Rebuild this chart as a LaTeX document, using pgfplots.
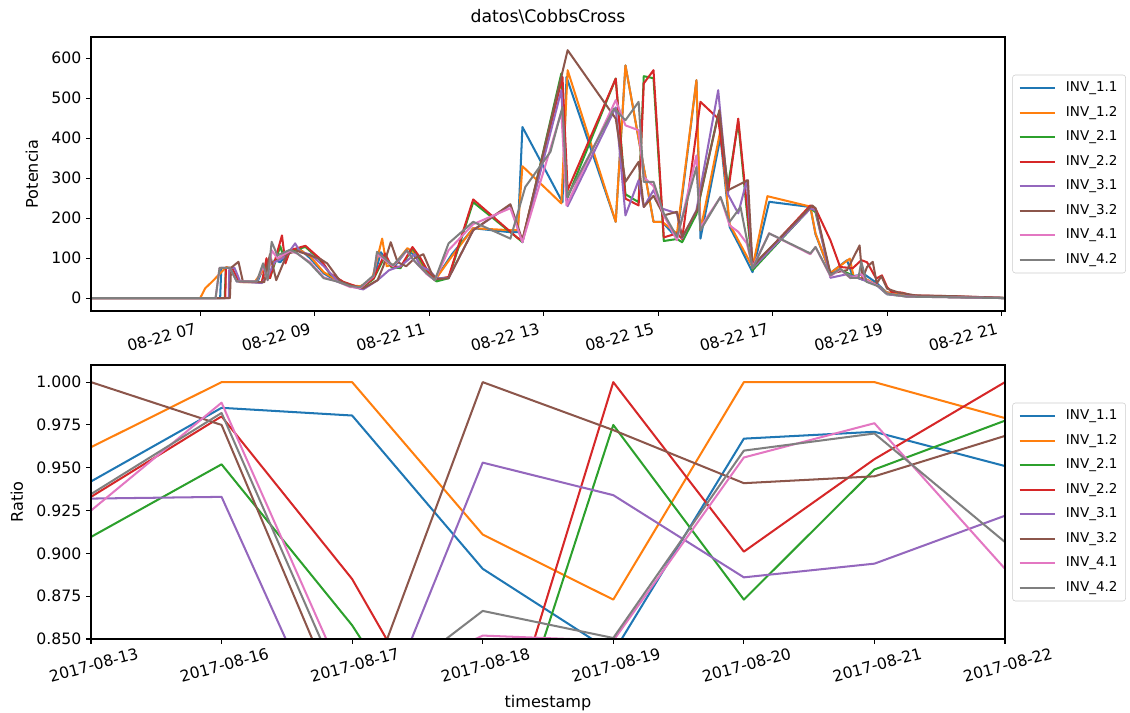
\documentclass[border=0pt]{standalone}
\usepackage{fontspec}
\setmainfont{DejaVu Sans}
\usepackage{pgfplots}
\pgfplotsset{compat=1.18}
\definecolor{c0}{HTML}{1F77B4}
\definecolor{c1}{HTML}{FF7F0E}
\definecolor{c2}{HTML}{2CA02C}
\definecolor{c3}{HTML}{D62728}
\definecolor{c4}{HTML}{9467BD}
\definecolor{c5}{HTML}{8C564B}
\definecolor{c6}{HTML}{E377C2}
\definecolor{c7}{HTML}{7F7F7F}
\pgfplotsset{
  mpl/.style={
    scale only axis, width=676.36pt, height=202.76pt,
    axis on top,
    axis line style={line width=0.8pt, black},
    tick align=outside, major tick length=3.6pt,
    tick style={black, line width=0.8pt},
    xtick pos=left, ytick pos=left,
    /pgf/number format/assume math mode=true,
    ticklabel style={font=\fontsize{11.6}{14}\selectfont},
    label style={font=\fontsize{11.9}{14}\selectfont},
    every axis plot/.append style={line width=1.5pt, line join=round, no marks},
    legend cell align=left,
    legend image code/.code={\draw[#1, line width=1.5pt] (0pt,0pt) -- (26pt,0pt);},
    legend style={at={(1.008,0.5)}, anchor=west, draw=black!20, rounded corners=2pt,
      fill=white, fill opacity=0.8, text opacity=1, inner xsep=4.5pt, inner ysep=3.6pt,
      font=\fontsize{10}{12}\selectfont, row sep=5.5pt, column sep=6pt,
      nodes={inner sep=1.5pt, text height=7.4pt, text depth=2.2pt}},
  }
}
\begin{document}
\begin{tikzpicture}
\useasboundingbox (0,0) rectangle (836.2pt,-527.62pt);
% ---------------- top axis ----------------
\begin{axis}[mpl, at={(67.34pt,-230.14pt)}, anchor=south west,
  xmin=5.094, xmax=21.06, ymin=-32, ymax=653,
  xtick={7,9,11,13,15,17,19,21},
  xticklabels={08-22 07,08-22 09,08-22 11,08-22 13,08-22 15,08-22 17,08-22 19,08-22 21},
  xticklabel style={rotate=15, anchor=north east, xshift=-2pt},
  ytick={0,100,200,300,400,500,600},
  ylabel={Potencia},
  ylabel style={at={(axis description cs:-0.0646,0.5)}, anchor=center},
  title={datos\textbackslash CobbsCross},
  title style={at={(axis description cs:0.5,1)}, anchor=center, yshift=9pt, font=\fontsize{12.8}{15}\selectfont},
]
\addplot[c0] coordinates {(5.0,0) (7.35,0) (7.37,76) (7.52,76) (7.64,42) (8.00,40) (8.10,75) (8.20,50) (8.30,95) (8.40,90) (8.57,118) (8.75,122) (8.92,100) (9.16,62) (9.39,42) (9.62,30) (9.80,28) (10.03,50) (10.16,115) (10.26,90) (10.40,80) (10.60,118) (10.73,110) (10.96,62) (11.10,45) (11.40,110) (11.77,175) (12.42,165) (12.55,165) (12.63,428) (13.33,240) (13.40,553) (14.26,191) (14.43,582) (14.92,191) (15.07,191) (15.33,150) (15.67,545) (15.74,149) (16.09,403) (16.25,178) (16.40,137) (16.65,65) (16.94,241) (17.66,228) (17.75,160) (18.01,63) (18.30,95) (18.40,55) (18.60,60) (18.80,40) (18.99,15) (19.34,5) (21.20,0)};
\addlegendentry{INV\_1.1}
\addplot[c1] coordinates {(5.0,0) (7.00,0) (7.09,25) (7.20,40) (7.46,78) (7.55,72) (7.70,40) (7.95,40) (8.10,70) (8.25,87) (8.40,100) (8.57,118) (8.75,120) (8.92,105) (9.16,65) (9.39,45) (9.62,32) (9.80,30) (10.00,45) (10.18,149) (10.26,80) (10.40,85) (10.62,125) (10.73,115) (10.96,65) (11.10,45) (11.40,105) (11.77,175) (12.42,170) (12.55,170) (12.63,330) (13.31,237) (13.42,570) (14.26,191) (14.43,582) (14.92,191) (15.07,191) (15.33,162) (15.67,545) (15.74,170) (16.09,420) (16.25,185) (16.40,145) (16.65,78) (16.91,255) (17.66,229) (17.75,162) (18.01,63) (18.35,99) (18.42,51) (18.60,50) (18.80,35) (18.99,15) (19.34,5) (21.20,0)};
\addlegendentry{INV\_1.2}
\addplot[c2] coordinates {(5.0,0) (7.43,0) (7.45,76) (7.55,76) (7.68,42) (8.08,40) (8.16,90) (8.22,50) (8.40,130) (8.49,90) (8.57,118) (8.84,128) (9.10,95) (9.27,60) (9.50,40) (9.80,24) (10.03,48) (10.23,105) (10.34,78) (10.50,75) (10.71,125) (10.85,95) (11.00,60) (11.13,42) (11.34,50) (11.77,240) (12.55,150) (12.63,140) (13.31,562) (13.42,252) (14.26,549) (14.43,260) (14.66,240) (14.75,555) (14.92,550) (15.10,143) (15.33,148) (15.42,140) (15.67,210) (16.05,460) (16.22,280) (16.40,440) (16.65,70) (17.66,225) (17.75,215) (18.01,60) (18.20,70) (18.50,50) (18.80,35) (19.00,10) (19.30,5) (21.20,0)};
\addlegendentry{INV\_2.1}
\addplot[c3] coordinates {(5.0,0) (7.44,0) (7.45,76) (7.55,76) (7.68,42) (8.08,40) (8.16,100) (8.22,50) (8.43,157) (8.49,87) (8.57,120) (8.84,131) (9.10,98) (9.27,62) (9.50,41) (9.80,26) (10.03,50) (10.23,112) (10.34,80) (10.50,78) (10.71,128) (10.85,100) (11.00,62) (11.13,48) (11.34,53) (11.77,247) (12.55,150) (12.63,145) (13.33,553) (13.42,270) (14.26,549) (14.43,249) (14.66,232) (14.75,537) (14.92,570) (15.10,152) (15.33,162) (15.42,148) (15.74,491) (16.05,449) (16.22,262) (16.40,449) (16.65,87) (16.80,100) (17.66,232) (17.75,224) (18.01,145) (18.18,78) (18.40,75) (18.55,95) (18.65,90) (18.81,49) (18.91,57) (19.00,28) (19.08,16) (19.26,14) (19.43,7) (20.13,5) (21.20,0)};
\addlegendentry{INV\_2.2}
\addplot[c4] coordinates {(5.0,0) (7.50,0) (7.51,76) (7.60,76) (7.70,42) (8.08,38) (8.20,60) (8.30,90) (8.50,105) (8.66,137) (8.75,115) (8.92,110) (9.16,80) (9.39,45) (9.62,30) (9.85,22) (10.10,45) (10.30,70) (10.50,80) (10.75,110) (10.85,80) (11.00,70) (11.13,50) (11.34,50) (11.77,170) (12.42,233) (12.63,140) (13.31,520) (13.42,230) (14.26,477) (14.43,207) (14.66,295) (14.75,228) (14.92,270) (15.07,224) (15.33,212) (15.42,150) (15.67,220) (16.05,520) (16.22,260) (16.40,212) (16.55,295) (16.65,75) (17.66,224) (17.75,220) (18.01,51) (18.30,60) (18.50,50) (18.80,35) (19.00,10) (19.30,5) (21.20,0)};
\addlegendentry{INV\_3.1}
\addplot[c5] coordinates {(5.0,0) (7.52,0) (7.54,76) (7.67,91) (7.75,40) (8.12,40) (8.22,110) (8.33,45) (8.52,111) (8.70,118) (9.10,98) (9.22,87) (9.45,42) (9.70,28) (9.85,25) (10.10,45) (10.20,80) (10.33,140) (10.45,90) (10.60,80) (10.75,100) (10.90,110) (11.05,60) (11.15,48) (11.34,50) (11.77,170) (12.42,235) (12.63,145) (13.42,620) (14.26,449) (14.43,291) (14.66,341) (14.75,228) (14.92,256) (15.10,207) (15.33,216) (15.42,152) (15.68,220) (16.07,470) (16.22,270) (16.57,295) (16.65,78) (16.80,103) (17.69,232) (17.75,225) (18.01,62) (18.30,70) (18.52,132) (18.57,49) (18.65,78) (18.75,91) (18.82,37) (18.90,55) (19.00,24) (19.20,14) (19.50,7) (20.20,5) (21.20,0)};
\addlegendentry{INV\_3.2}
\addplot[c6] coordinates {(5.0,0) (7.27,0) (7.34,76) (7.52,76) (7.64,42) (7.99,42) (8.10,80) (8.18,45) (8.25,120) (8.35,100) (8.57,118) (8.69,112) (8.92,90) (9.16,52) (9.39,42) (9.62,28) (9.80,26) (10.03,55) (10.09,110) (10.26,92) (10.37,80) (10.61,118) (10.73,95) (10.96,60) (11.10,45) (11.34,120) (11.77,185) (12.42,225) (12.63,140) (13.31,466) (13.40,232) (14.26,495) (14.43,432) (14.66,420) (14.75,303) (14.92,280) (15.10,207) (15.33,145) (15.67,357) (15.74,177) (16.09,253) (16.25,182) (16.40,166) (16.55,137) (16.65,78) (16.94,162) (17.66,110) (17.75,128) (18.01,55) (18.18,72) (18.36,50) (18.55,60) (18.64,45) (18.88,28) (18.99,12) (19.34,4) (21.20,0)};
\addlegendentry{INV\_4.1}
\addplot[c7] coordinates {(5.0,0) (7.27,0) (7.34,76) (7.52,76) (7.64,42) (7.99,42) (8.10,87) (8.18,45) (8.25,141) (8.35,107) (8.57,121) (8.69,113) (8.92,87) (9.16,50) (9.39,42) (9.62,30) (9.80,28) (10.03,57) (10.09,116) (10.26,95) (10.37,82) (10.61,120) (10.73,95) (10.96,62) (11.10,45) (11.34,137) (11.77,191) (12.42,149) (12.68,278) (13.12,366) (13.33,478) (13.41,253) (14.23,474) (14.43,445) (14.66,491) (14.75,291) (14.92,291) (15.10,212) (15.33,153) (15.67,328) (15.74,170) (16.09,253) (16.25,191) (16.44,228) (16.65,74) (16.94,162) (17.66,112) (17.75,128) (18.01,57) (18.18,74) (18.36,51) (18.50,51) (18.55,91) (18.64,41) (18.88,28) (18.99,12) (19.34,4) (21.20,0)};
\addlegendentry{INV\_4.2}
\end{axis}
% ---------------- bottom axis ----------------
\begin{axis}[mpl, at={(67.34pt,-472.86pt)}, anchor=south west,
  xmin=0, xmax=7, ymin=0.85, ymax=1.01,
  xtick={0,1,2,3,4,5,6,7},
  xticklabels={2017-08-13,2017-08-16,2017-08-17,2017-08-18,2017-08-19,2017-08-20,2017-08-21,2017-08-22},
  xticklabel style={rotate=15, anchor=north},
  xticklabel shift=8pt,
  ytick={0.850,0.875,0.900,0.925,0.950,0.975,1.000},
  yticklabel style={/pgf/number format/.cd, fixed, fixed zerofill, precision=3},
  ylabel={Ratio},
  ylabel style={at={(axis description cs:-0.081,0.5)}, anchor=center},
  xlabel={timestamp},
  xlabel style={at={(axis description cs:0.5,0)}, anchor=center, yshift=-47.4pt},
]
\addplot[c0] coordinates {(0,0.942) (1,0.985) (2,0.9805) (3,0.891) (4,0.842) (5,0.967) (6,0.971) (7,0.951)};
\addlegendentry{INV\_1.1}
\addplot[c1] coordinates {(0,0.962) (1,1.0) (2,1.0) (3,0.911) (4,0.873) (5,1.0) (6,1.0) (7,0.979)};
\addlegendentry{INV\_1.2}
\addplot[c2] coordinates {(0,0.9096) (1,0.952) (2,0.858) (3,0.740) (4,0.975) (5,0.873) (6,0.949) (7,0.9775)};
\addlegendentry{INV\_2.1}
\addplot[c3] coordinates {(0,0.933) (1,0.980) (2,0.885) (3,0.752) (4,1.0) (5,0.901) (6,0.955) (7,1.0)};
\addlegendentry{INV\_2.2}
\addplot[c4] coordinates {(0,0.932) (1,0.933) (2,0.764) (3,0.953) (4,0.934) (5,0.886) (6,0.894) (7,0.922)};
\addlegendentry{INV\_3.1}
\addplot[c5] coordinates {(0,1.0) (1,0.975) (2,0.795) (3,1.0) (4,0.972) (5,0.941) (6,0.945) (7,0.9686)};
\addlegendentry{INV\_3.2}
\addplot[c6] coordinates {(0,0.925) (1,0.988) (2,0.816) (3,0.852) (4,0.849) (5,0.956) (6,0.976) (7,0.891)};
\addlegendentry{INV\_4.1}
\addplot[c7] coordinates {(0,0.9346) (1,0.982) (2,0.808) (3,0.8664) (4,0.8506) (5,0.960) (6,0.970) (7,0.9066)};
\addlegendentry{INV\_4.2}
\end{axis}
\end{tikzpicture}
\end{document}
